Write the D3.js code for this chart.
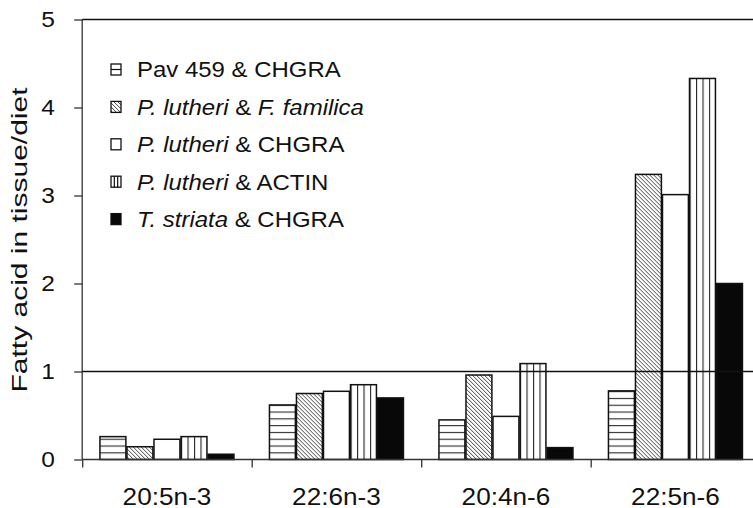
<!DOCTYPE html>
<html>
<head>
<meta charset="utf-8">
<script src="https://cdn.jsdelivr.net/npm/d3@7"></script>
<style>
  html, body { margin: 0; padding: 0; background: #fff; }
  svg { display: block; font-family: "Liberation Sans", Arial, Helvetica, sans-serif; }
</style>
</head>
<body>
<svg id="chart" width="753" height="508"></svg>
<script>
// ---- data -------------------------------------------------------------
const categories = ["20:5n-3", "22:6n-3", "20:4n-6", "22:5n-6"];

const pavChgra      = [0.26, 0.62, 0.45, 0.78];
const lutheriFam    = [0.145, 0.75, 0.96, 3.24];
const lutheriChgra  = [0.23, 0.775, 0.49, 3.01];
const lutheriActin  = [0.26, 0.85, 1.09, 4.33];
const striataChgra  = [0.06, 0.70, 0.135, 2.0];

// legend labels: [text, italic?] segments
const seriesLabels = [
  [["Pav 459 & CHGRA", false]],
  [["P. lutheri", true], [" & ", false], ["F. familica", true]],
  [["P. lutheri", true], [" & CHGRA", false]],
  [["P. lutheri", true], [" & ACTIN", false]],
  [["T. striata", true], [" & CHGRA", false]]
];
const seriesKeys = ["horiz", "diag", "open", "vert", "solid"];

const yTicks = [0, 1, 2, 3, 4, 5];
const yTitle = "Fatty acid in tissue/diet";
const referenceLevel = 1;

const seriesValues = [pavChgra, lutheriFam, lutheriChgra, lutheriActin, striataChgra];

// ---- layout -------------------------------------------------------------
const W = 753, H = 508;
const plotLeft = 82.2, plotTop = 19.5, plotBottom = 459.5;
const step = 169.5;                       // width of one category slot
const plotRight = plotLeft + step * categories.length;
const groupWidth = 134;
const textStretch = 1.09;
const ink = "#111";
const textInk = "#111";

const svg = d3.select("#chart");

// ---- fill patterns --------------------------------------------------------
const defs = svg.append("defs");

const ph = defs.append("pattern").attr("id", "p-horiz")
  .attr("patternUnits", "userSpaceOnUse").attr("width", 10).attr("height", 6.8)
  .attr("y", 418.3);
ph.append("rect").attr("width", 10).attr("height", 6.8).attr("fill", "#fff");
ph.append("line").attr("x1", 0).attr("x2", 10).attr("y1", 0.5).attr("y2", 0.5)
  .attr("stroke", "#2a2a2a").attr("stroke-width", 1.2);

const pd = defs.append("pattern").attr("id", "p-diag")
  .attr("patternUnits", "userSpaceOnUse").attr("width", 4).attr("height", 4);
pd.append("rect").attr("width", 4).attr("height", 4).attr("fill", "#fff");
pd.append("path").attr("d", "M-1,-1L5,5M-1,3L1,5M3,-1L5,1")
  .attr("stroke", "#444").attr("stroke-width", 1);

const pv = defs.append("pattern").attr("id", "p-vert")
  .attr("patternUnits", "objectBoundingBox").attr("width", 0.25).attr("height", 1);
pv.append("rect").attr("width", 20).attr("height", 500).attr("fill", "#fff");
pv.append("line").attr("x1", 0.5).attr("x2", 0.5).attr("y1", 0).attr("y2", 500)
  .attr("stroke", "#222").attr("stroke-width", 1.2);

const fills = { horiz: "url(#p-horiz)", diag: "url(#p-diag)", open: "#fff", vert: "url(#p-vert)", solid: "#080808" };

// ---- scales ---------------------------------------------------------------
const y = d3.scaleLinear().domain([0, 5]).range([plotBottom, plotTop]);
const x0 = d3.scaleBand().domain(categories).range([plotLeft, plotRight]).padding(0);
const x1 = d3.scaleBand().domain(d3.range(seriesValues.length))
  .range([(step - groupWidth) / 2, (step + groupWidth) / 2]).paddingInner(0.04);
const xSep = d3.scaleLinear().domain([0, categories.length]).range([plotLeft, plotRight]);

// ---- bars -----------------------------------------------------------------
const groups = svg.append("g").selectAll("g").data(categories).join("g")
  .attr("transform", d => `translate(${x0(d)},0)`);

groups.selectAll("rect")
  .data((c, ci) => seriesValues.map((vals, si) => ({ si, v: vals[ci] })))
  .join("rect")
  .attr("x", d => x1(d.si))
  .attr("width", x1.bandwidth())
  .attr("y", d => y(d.v))
  .attr("height", d => y(0) - y(d.v))
  .attr("fill", d => fills[seriesKeys[d.si]])
  .attr("stroke", ink)
  .attr("stroke-width", 1.5);

// ---- axes -----------------------------------------------------------------
const yAxis = svg.append("g")
  .attr("transform", `translate(${plotLeft},0)`)
  .call(d3.axisLeft(y).tickValues(yTicks).tickSize(8).tickPadding(17).tickFormat(d3.format("d")));
yAxis.select(".domain").attr("stroke", "#333").attr("stroke-width", 1.3)
  .attr("d", `M0,${plotTop}V${plotBottom}`);
yAxis.selectAll(".tick line").attr("stroke", "#333").attr("stroke-width", 1.3);
yAxis.selectAll(".tick text")
  .attr("font-size", 22.5).attr("fill", textInk)
  .attr("transform", `scale(${textStretch},1)`);

// separator ticks along the category axis
const xTickAxis = svg.append("g")
  .attr("transform", `translate(0,${plotBottom})`)
  .call(d3.axisBottom(xSep).tickValues(d3.range(categories.length + 1)).tickSize(8).tickFormat(""));
xTickAxis.select(".domain").attr("stroke", "#333").attr("stroke-width", 1.3)
  .attr("d", `M${plotLeft},0H${plotRight}`);
xTickAxis.selectAll(".tick line").attr("stroke", "#333").attr("stroke-width", 1.3);

// category labels
const xLabelAxis = svg.append("g")
  .attr("transform", `translate(0,${plotBottom})`)
  .call(d3.axisBottom(x0).tickSize(0).tickPadding(28));
xLabelAxis.select(".domain").remove();
xLabelAxis.selectAll(".tick text")
  .attr("font-size", 24).attr("fill", textInk)
  .attr("transform", `scale(${textStretch},1)`);

// reference line at ratio 1 and top frame line
svg.append("line")
  .attr("x1", plotLeft).attr("x2", W)
  .attr("y1", y(referenceLevel)).attr("y2", y(referenceLevel))
  .attr("stroke", ink).attr("stroke-width", 1.4);
svg.append("line")
  .attr("x1", plotLeft).attr("x2", W)
  .attr("y1", y(5)).attr("y2", y(5))
  .attr("stroke", ink).attr("stroke-width", 1.5);

// y-axis title
svg.append("text")
  .attr("transform", `translate(19,${(y(0) + y(5)) / 2 + 0.5}) rotate(-90)`)
  .attr("text-anchor", "middle")
  .attr("dominant-baseline", "central")
  .attr("font-size", 22)
  .attr("fill", textInk)
  .attr("textLength", 305)
  .attr("lengthAdjust", "spacingAndGlyphs")
  .text(yTitle);

// ---- legend ---------------------------------------------------------------
const legend = svg.append("g").attr("transform", "translate(111,69.5)");
const rowGap = 37.4;
const items = legend.selectAll("g").data(seriesLabels).join("g")
  .attr("transform", (d, i) => `translate(0,${i * rowGap})`);

const bw = 10, bh = 11;
items.each(function (segs, i) {
  const g = d3.select(this);
  const key = seriesKeys[i];
  g.append("rect").attr("x", 0).attr("y", -bh / 2).attr("width", bw).attr("height", bh)
    .attr("fill", key === "solid" ? "#080808" : key === "diag" ? "url(#p-diag)" : "#fff")
    .attr("stroke", ink).attr("stroke-width", 1.3);
  if (key === "horiz") {
    g.append("line").attr("x1", 0).attr("x2", bw).attr("y1", 0).attr("y2", 0)
      .attr("stroke", ink).attr("stroke-width", 1.2);
  }
  if (key === "vert") {
    [bw / 3, 2 * bw / 3].forEach(px => g.append("line")
      .attr("x1", px).attr("x2", px).attr("y1", -bh / 2).attr("y2", bh / 2)
      .attr("stroke", ink).attr("stroke-width", 1.2));
  }
  const t = g.append("text")
    .attr("transform", `translate(26,0) scale(${textStretch},1)`)
    .attr("dy", "0.36em")
    .attr("font-size", 22)
    .attr("fill", textInk);
  segs.forEach(([s, it]) => t.append("tspan").attr("font-style", it ? "italic" : "normal").text(s));
});
</script>
</body>
</html>
